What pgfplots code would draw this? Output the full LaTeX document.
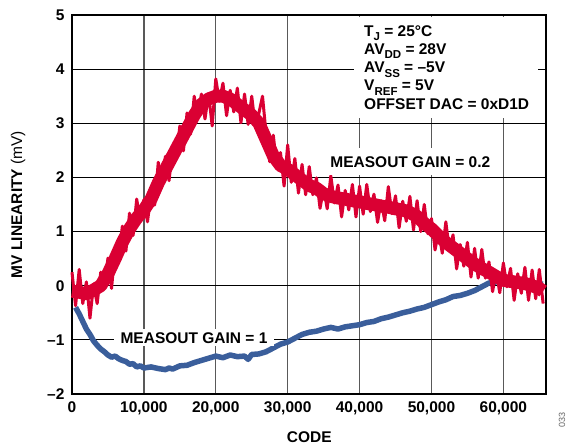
\documentclass[border=0pt]{standalone}
\usepackage{pgfplots}
\pgfplotsset{compat=1.18}
\usepackage{fontspec}
\setmainfont{Liberation Sans}
\definecolor{curvered}{HTML}{DA0033}
\definecolor{curveblue}{HTML}{3A5E9B}
\newcommand{\sub}[1]{\raisebox{-0.3em}{\fontsize{11.5}{11.5}\selectfont #1}}
\newcommand{\lblfont}{\fontsize{15.5}{18.3}\selectfont\bfseries}

\begin{document}
\begin{tikzpicture}
\useasboundingbox (-72pt,-52pt) rectangle (502pt,394pt);
\begin{axis}[
  at={(0,0)}, anchor=south west,
  scale only axis,
  width=474.5pt, height=379pt,
  xmin=0, xmax=66000, ymin=-2, ymax=5,
  scaled x ticks=false,
  xtick={0,10000,20000,30000,40000,50000,60000},
  xticklabels={0,{10,000},{20,000},{30,000},{40,000},{50,000},{60,000}},
  ytick={-2,-1,0,1,2,3,4,5},
  yticklabels={--2,--1,0,1,2,3,4,5},
  major tick length=0pt,
  tick label style={font=\lblfont},
  xticklabel style={yshift=-4pt},
  yticklabel style={xshift=-4pt},
  grid=major,
  major x grid style={line width=1.3pt, black!65},
  major y grid style={line width=1.2pt, black},
  axis line style={line width=2pt, black},
  xlabel={CODE},
  xlabel style={font=\lblfont, at={(axis description cs:0.5,-0.1148)}, anchor=center},
  ylabel={MV LINEARITY {\mdseries(mV)}},
  ylabel style={font=\lblfont, at={(axis description cs:-0.1138,0.5)}, anchor=center, rotate=0},
  clip=false,
]
% test conditions box
\fill[white] (rel axis cs:0.5943,0.995) rectangle (rel axis cs:0.982,0.728);
\node[anchor=north west, inner sep=0pt, align=left, font=\lblfont]
  at (rel axis cs:0.6154,0.9736)
  {T\sub{J} = 25°C\\AV\sub{DD} = 28V\\AV\sub{SS} = –5V\\V\sub{REF} = 5V\\OFFSET DAC = 0xD1D};

% MEASOUT GAIN = 1
\addplot[curveblue, line width=5.5pt, line join=round] coordinates {
(500,-0.40) (1000,-0.52) (1500,-0.66) (2000,-0.80) (2500,-0.90) (3000,-1.02)
(3500,-1.10) (4000,-1.17) (4500,-1.22) (5000,-1.28) (5500,-1.32) (6000,-1.30)
(6500,-1.35) (7000,-1.38) (7500,-1.40) (8000,-1.45) (8500,-1.44) (9000,-1.50)
(9500,-1.48) (10000,-1.52) (11000,-1.50) (12000,-1.53) (13000,-1.55) (13500,-1.52)
(14000,-1.54) (15000,-1.48) (16000,-1.47) (17000,-1.42) (18000,-1.38) (19000,-1.34)
(20000,-1.30) (21000,-1.33) (22000,-1.28) (23000,-1.31) (24000,-1.30) (24500,-1.36)
(25000,-1.27) (26000,-1.26) (27000,-1.22) (28000,-1.15) (29000,-1.08) (30000,-1.04)
(31000,-0.97) (32000,-0.90) (33000,-0.86) (34000,-0.84) (35000,-0.80) (36000,-0.77)
(37000,-0.80) (38000,-0.76) (39000,-0.74) (40000,-0.72) (41000,-0.68) (42000,-0.66)
(43000,-0.61) (44000,-0.58) (45000,-0.54) (46000,-0.50) (47000,-0.47) (48000,-0.43)
(49000,-0.40) (50000,-0.35) (51000,-0.30) (52000,-0.26) (53000,-0.20) (54000,-0.18)
(55000,-0.14) (56000,-0.09) (57000,-0.02) (58000,0.05) (59000,0.07) (60000,0.08)
(61000,0.07) (62000,0.06) (63000,0.05) (65535,0.03)
};

% MEASOUT GAIN = 0.2 : body of the noise band
\addplot[curvered, line width=13pt, line join=round] coordinates {
(0,-0.10) (1000,-0.12) (2000,-0.15) (3000,-0.08) (4000,0.00) (5000,0.22)
(6000,0.50) (7000,0.80) (8000,1.05) (9000,1.25) (10000,1.40) (11000,1.60)
(12000,1.90) (13000,2.15) (14000,2.40) (15000,2.65) (16000,2.90) (17000,3.15)
(18000,3.35) (19000,3.45) (20000,3.50) (21000,3.50) (22000,3.45) (23000,3.35)
(24000,3.25) (25000,3.15) (26000,3.00) (27000,2.70) (28000,2.40) (29000,2.22)
(30000,2.15) (31000,2.05) (32000,1.95) (33000,1.85) (34000,1.80) (35000,1.70)
(36000,1.65) (37000,1.62) (38000,1.60) (39000,1.57) (40000,1.55) (41000,1.52)
(42000,1.50) (43000,1.47) (44000,1.45) (45000,1.42) (46000,1.40) (47000,1.35)
(48000,1.28) (49000,1.15) (50000,1.05) (51000,0.92) (52000,0.80) (53000,0.70)
(54000,0.60) (55000,0.50) (56000,0.40) (57000,0.32) (58000,0.25) (59000,0.17)
(60000,0.10) (61000,0.08) (62000,0.06) (63000,0.04) (64000,0.00) (65000,-0.05)
(65535,-0.10)
};
% MEASOUT GAIN = 0.2 : noise spikes
\addplot[curvered, line width=3pt, line join=round] coordinates {
(0,0.25) (500,-0.37) (1000,0.30) (1500,-0.33) (2000,0.07) (2500,-0.60)
(3000,0.03) (3500,-0.33) (4000,0.25) (4500,-0.03) (5000,0.51) (5500,-0.05)
(6000,0.66) (6500,0.46) (7000,1.10) (7500,0.64) (8000,1.34) (8500,0.93)
(9000,1.60) (9500,1.18) (10000,1.59) (10500,1.18) (11000,1.70) (11500,1.49)
(12000,2.28) (12500,1.91) (13000,2.39) (13500,1.94) (14000,2.56) (14500,2.33)
(15000,2.95) (15500,2.49) (16000,3.19) (16500,2.80) (17000,3.50) (17500,3.11)
(18000,3.54) (18500,3.08) (19000,3.55) (19500,2.95) (20000,3.82) (20500,3.41)
(21000,3.74) (21500,3.14) (22000,3.61) (22500,3.21) (23000,3.65) (23500,3.01)
(24000,3.54) (24500,2.98) (25000,3.50) (25500,2.94) (26000,3.19) (26500,3.50)
(27000,2.80) (27500,2.29) (28000,2.78) (28500,2.19) (29000,2.46) (29500,1.84)
(30000,2.60) (30500,1.91) (31000,2.35) (31500,1.71) (32000,2.24) (32500,1.68)
(33000,2.20) (33500,1.68) (34000,1.99) (34500,1.43) (35000,1.80) (35500,1.42)
(36000,2.03) (36500,1.53) (37000,1.86) (37500,1.27) (38000,1.76) (38500,1.40)
(39000,1.87) (39500,1.27) (40000,1.84) (40500,1.32) (41000,1.87) (41500,1.37)
(42000,1.69) (42500,1.17) (43000,1.57) (43500,1.20) (44000,1.83) (44500,1.33)
(45000,1.66) (45500,1.07) (46000,1.56) (46500,1.19) (47000,1.65) (47500,1.03)
(48000,1.57) (48500,1.00) (49000,1.50) (49500,0.96) (50000,1.24) (50500,0.66)
(51000,1.02) (51500,0.60) (52000,1.18) (52500,0.64) (53000,0.94) (53500,0.31)
(54000,0.76) (54500,0.36) (55000,0.80) (55500,0.16) (56000,0.69) (56500,0.14)
(57000,0.67) (57500,0.14) (58000,0.44) (58500,-0.11) (59000,0.27) (59500,-0.13)
(60000,0.42) (60500,-0.02) (61000,0.32) (61500,-0.27) (62000,0.22) (62500,-0.14)
(63000,0.34) (63500,-0.27) (64000,0.29) (64500,-0.24) (65000,0.30) (65535,-0.33)
};

\node[fill=white, inner xsep=3pt, inner ysep=8pt, font=\lblfont]
  at (axis cs:47060,2.29) {MEASOUT GAIN = 0.2};
\node[fill=white, inner xsep=7pt, inner ysep=3pt, font=\lblfont]
  at (axis cs:16970,-0.96) {MEASOUT GAIN = 1};
\node[rotate=90, inner sep=0pt, text=black!60, font=\fontsize{9}{9}\selectfont]
  at (rel axis cs:1.0327,-0.0686) {033};
\end{axis}
\end{tikzpicture}
\end{document}
